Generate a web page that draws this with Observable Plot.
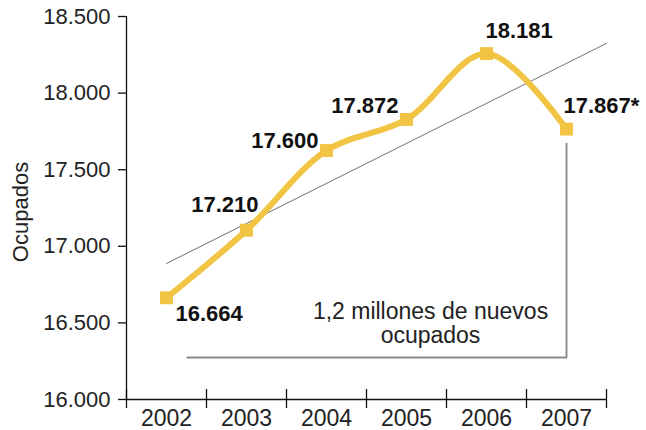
<!DOCTYPE html>
<html>
<head>
<meta charset="utf-8">
<script src="https://cdn.jsdelivr.net/npm/d3@7"></script>
<script src="https://cdn.jsdelivr.net/npm/@observablehq/plot@0.6"></script>
<style>
  html, body { margin: 0; padding: 0; background: #fff; }
</style>
</head>
<body>
<div id="chart"></div>
<script>
// Data
const years = [2002, 2003, 2004, 2005, 2006, 2007];
const ocupados = [16664, 17105, 17625, 17828, 18258, 17765]; // plotted marker positions (miles)
const valueLabels = ["16.664", "17.210", "17.600", "17.872", "18.181", "17.867*"];
const yTicks = [16000, 16500, 17000, 17500, 18000, 18500];
const yTickLabels = ["16.000", "16.500", "17.000", "17.500", "18.000", "18.500"];
const xBoundaries = [2001.5, 2002.5, 2003.5, 2004.5, 2005.5, 2006.5, 2007.5];
const trendX = [2002, 2007.5];
const trendY = [16888, 18325];
const bracketX = [2002.26, 2007, 2007];
const bracketY = [16274, 16274, 17671];
const noteText = ["1,2 millones de nuevos\nocupados"];
const noteX = [2005.3];
const noteY = [16500];
const yLabel = "Ocupados";

const series = years.map((year, i) => ({year, value: ocupados[i], label: valueLabels[i]}));
const trend = trendX.map((x, i) => ({x, y: trendY[i]}));
const bracket = bracketX.map((x, i) => ({x, y: bracketY[i]}));
const note = noteText.map((t, i) => ({t, x: noteX[i], y: noteY[i]}));

const gold = "#F2C444";
const font = "'Liberation Sans', Arial, sans-serif";

// label placement per year (style offsets)
const labelStyle = {
  2002: {textAnchor: "start", dx: 9, dy: 16},
  2003: {textAnchor: "end", dx: 12, dy: -25},
  2004: {textAnchor: "end", dx: -8, dy: -10},
  2005: {textAnchor: "end", dx: -8, dy: -13},
  2006: {textAnchor: "start", dx: -1, dy: -23},
  2007: {textAnchor: "start", dx: -3, dy: -23}
};

const labelMarks = years.map(yr => Plot.text(series.filter(d => d.year === yr), {
  x: "year", y: "value", text: "label",
  fontWeight: "bold", fontSize: 22, fill: "#111",
  ...labelStyle[yr]
}));

const chart = Plot.plot({
  width: 646,
  height: 430,
  marginLeft: 126,
  marginRight: 40,
  marginTop: 16,
  marginBottom: 31,
  x: {domain: [2001.5, 2007.5]},
  y: {domain: [16000, 18500]},
  style: {fontFamily: font, fontSize: "22px", color: "#222", background: "#fff", overflow: "visible"},
  marks: [
    // axes
    Plot.ruleY([16000], {stroke: "#111", strokeWidth: 1.3}),
    Plot.ruleX([2001.5], {stroke: "#111", strokeWidth: 1.3}),
    Plot.axisY({ticks: yTicks, tickFormat: (d) => yTickLabels[yTicks.indexOf(d)],
      tickSize: 8, tickPadding: 8, label: null, stroke: "#111", strokeWidth: 1.3, fontSize: 22, fill: "#222"}),
    Plot.axisX({ticks: xBoundaries, tickSize: 9, tickFormat: () => "", label: null, stroke: "#111", strokeWidth: 1.3}),
    Plot.axisX({ticks: xBoundaries, tickSize: -10, tickFormat: () => "", label: null, stroke: "#111", strokeWidth: 1.3}),
    Plot.axisX({ticks: years, tickSize: 0, tickPadding: 10, tickFormat: (d) => String(d), label: null, fontSize: 23, fill: "#222"}),
    Plot.text([yLabel], {frameAnchor: "left", textAnchor: "middle", rotate: -90, dx: -106, dy: 4, fontSize: 22, fill: "#222"}),
    // trend line
    Plot.line(trend, {x: "x", y: "y", stroke: "#707070", strokeWidth: 1}),
    // bracket
    Plot.line(bracket, {x: "x", y: "y", stroke: "#8a8a8a", strokeWidth: 2, strokeDasharray: "1 1"}),
    Plot.text(note, {x: "x", y: "y", text: "t", fontSize: 23, fill: "#222", lineHeight: 1.05}),
    // main series
    Plot.line(series, {x: "year", y: "value", stroke: gold, strokeWidth: 6, curve: "catmull-rom", strokeLinejoin: "round"}),
    Plot.dot(series, {x: "year", y: "value", symbol: "square", r: 7.3, fill: gold, stroke: "none"}),
    ...labelMarks
  ]
});

document.getElementById("chart").appendChild(chart);
</script>
</body>
</html>
